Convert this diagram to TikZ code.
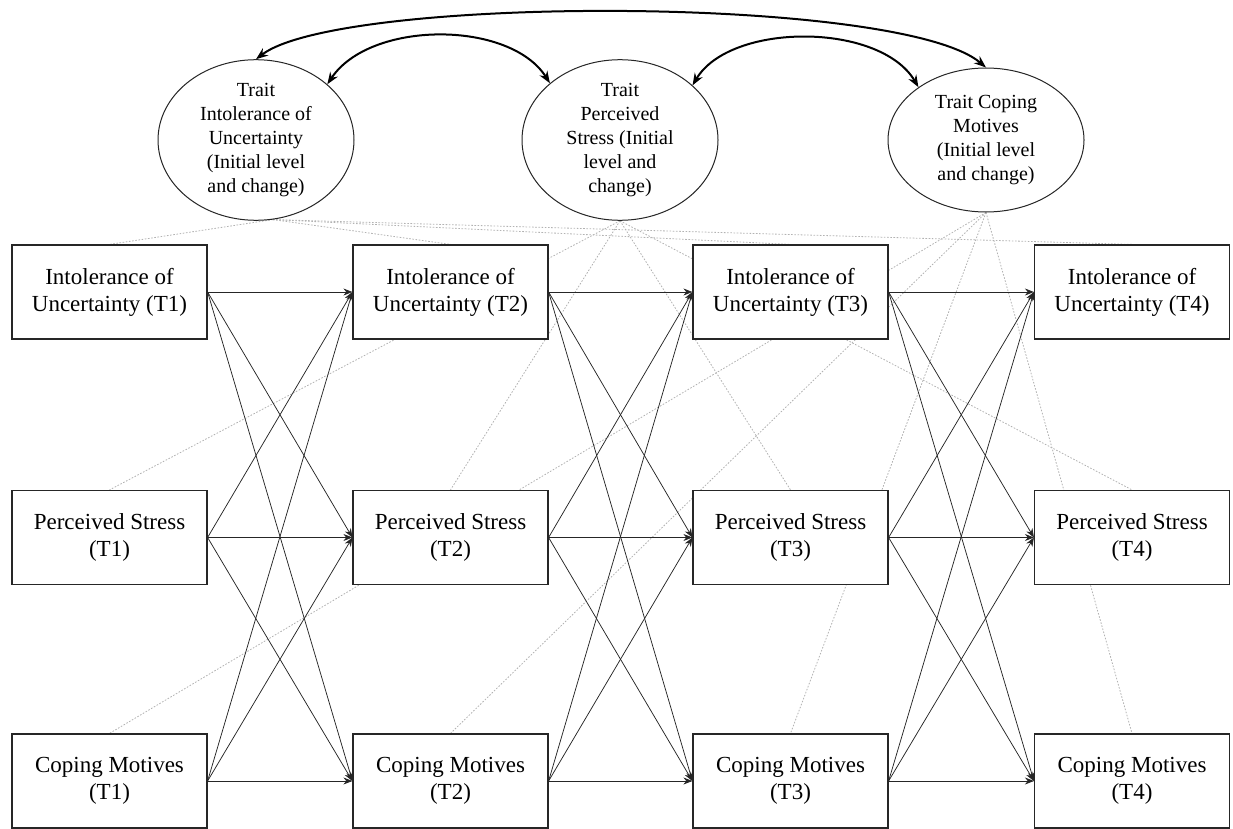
\documentclass[tikz,border=0pt]{standalone}
\usepackage{fontspec}
\setmainfont{Liberation Serif}
\usetikzlibrary{arrows.meta,shapes.geometric,backgrounds}
\begin{document}
\begin{tikzpicture}[x=1pt,y=-1pt,
  obs/.style={draw=black!85, fill=white, line width=1.2pt, minimum width=195pt, minimum height=94pt, inner sep=0pt, align=center, font=\fontsize{23}{27}\selectfont},
  lat/.style={draw=black!85, ellipse, fill=white, line width=1pt, minimum width=196pt, minimum height=144pt, inner sep=0pt, align=center, font=\fontsize{20}{24}\selectfont},
  regarrow/.style={-{Stealth[length=9pt,width=7pt]}, line width=0.75pt, black!85},
  loading/.style={gray!60, line width=0.8pt, dash pattern=on 1.6pt off 1.6pt},
  covarc/.style={{Stealth[length=12pt,width=9pt]}-{Stealth[length=12pt,width=9pt]}, line width=2pt}]
\useasboundingbox (0,0) rectangle (1233,829);
\node[lat] (iu) at (256,140) {Trait\\Intolerance of\\Uncertainty\\(Initial level\\and change)};
\node[lat] (ps) at (620,140) {Trait\\Perceived\\Stress (Initial\\level and\\change)};
\node[lat] (cm) at (986,140) {Trait Coping\\Motives\\(Initial level\\and change)};
\foreach \i/\x in {1/109.5,2/450.5,3/790.5,4/1132} {
  \node[obs] (iu\i) at (\x,292) {Intolerance of\\Uncertainty (T\i)};
  \node[obs] (ps\i) at (\x,537.5) {Perceived Stress\\(T\i)};
  \node[obs] (cm\i) at (\x,781) {Coping Motives\\(T\i)};
}
\begin{pgfonlayer}{background}
\foreach \i in {1,2,3,4} {
  \draw[loading] (iu.-78) -- (iu\i.north);
  \draw[loading] (ps.south) -- (ps\i.north);
  \draw[loading] (cm.south) -- (cm\i.north);
}
\end{pgfonlayer}
\foreach \i/\j in {1/2,2/3,3/4} {
  \foreach \a in {iu,ps,cm} {
    \foreach \b in {iu,ps,cm} {
      \draw[regarrow] (\a\i.east) -- (\b\j.west);
    }
  }
}
\draw[covarc] (iu.north) .. controls (340,-5) and (900,-5) .. (cm.north);
\draw[covarc] (iu.38) .. controls (370,20) and (510,20) .. (ps.141);
\draw[covarc] (ps.37) .. controls (730,22) and (880,22) .. (cm.142);
\end{tikzpicture}
\end{document}
